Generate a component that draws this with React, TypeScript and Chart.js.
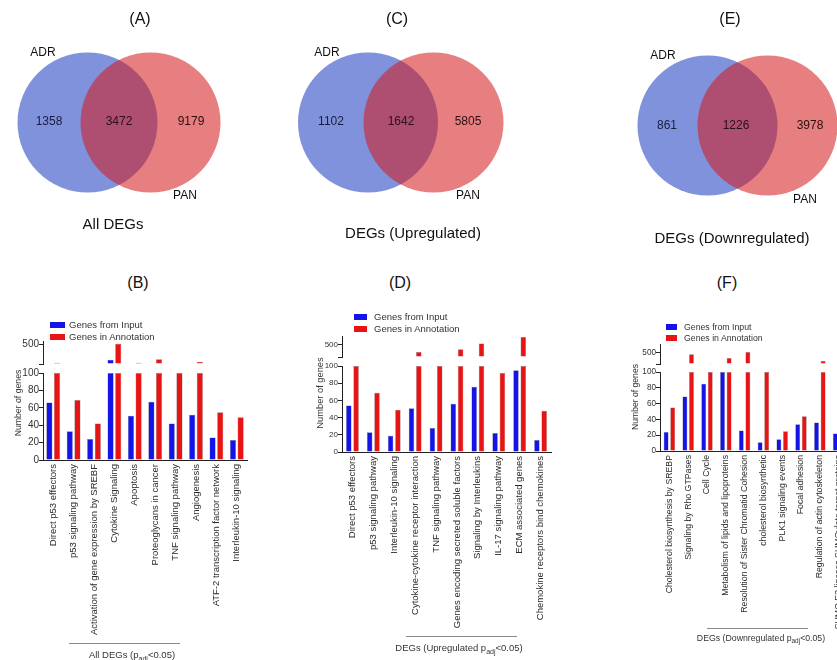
import React, { useEffect, useRef } from 'react';
import { Chart, registerables } from 'chart.js';

Chart.register(...registerables);

const FONT = '"Liberation Sans", Arial, Helvetica, sans-serif';

// ---------------- Venn data ----------------
const vennTitles = ['(A)', '(C)', '(E)'];
const vennCaptions = ['All DEGs', 'DEGs (Upregulated)', 'DEGs (Downregulated)'];
const vennSets = ['ADR', 'PAN'];
const vennOnlyADR = [1358, 1102, 861];
const vennBoth = [3472, 1642, 1226];
const vennOnlyPAN = [9179, 5805, 3978];

// ---------------- Bar data ----------------
const seriesNames = ['Genes from Input', 'Genes in Annotation'];

const catB = [
  'Direct p53 effectors',
  'p53 signaling pathway',
  'Activation of gene expression by SREBF',
  'Cytokine Signaling',
  'Apoptosis',
  'Proteoglycans in cancer',
  'TNF signaling pathway',
  'Angiogenesis',
  'ATF-2 transcription factor network',
  'Interleukin-10 signaling',
];
const inputB = [66, 33, 24, 186, 51, 67, 42, 52, 26, 23];
const annotB = [126, 69, 42, 506, 126, 194, 108, 146, 55, 49];

const catD = [
  'Direct p53 effectors',
  'p53 signaling pathway',
  'Interleukin-10 signaling',
  'Cytokine-cytokine receptor interaction',
  'TNF signaling pathway',
  'Genes encoding secreted soluble factors',
  'Signaling by Interleukins',
  'IL-17 signaling pathway',
  'ECM associated genes',
  'Chemokine receptors bind chemokines',
];
const inputD = [54, 23, 19, 51, 28, 56, 76, 22, 95, 14];
const annotD = [120, 69, 49, 261, 110, 348, 532, 92, 745, 48];

const catF = [
  'Cholesterol biosynthesis by SREBP',
  'Signaling by Rho GTPases',
  'Cell Cycle',
  'Metabolism of lipids and lipoproteins',
  'Resolution of Sister Chromatid Cohesion',
  'cholesterol biosynthetic',
  'PLK1 signaling events',
  'Focal adhesion',
  'Regulation of actin cytoskeleton',
  'SUMO E3 ligases SUMOylate target proteins',
];
const inputF = [24, 69, 85, 100, 26, 11, 15, 34, 36, 22];
const annotF = [55, 443, 110, 312, 525, 100, 25, 44, 206, 60];

const panelTitles = ['(B)', '(D)', '(F)'];
const captionMain = ['All DEGs (p', 'DEGs (Upregulated p', 'DEGs (Downregulated p'];
const captionSub = 'adj';
const captionTail = '<0.05)';
const yTitle = 'Number of genes';
const BREAK = 100;
const UPPER_TICK = 500;

// ---------------- Layout ----------------
const VENN_R = 70;
const VENN_LAYOUT = [
  { blue: [87.5, 122.5], red: [150.5, 122.5], title: [140, 20], adr: [43, 53], pan: [185, 196], counts: [[49, 122], [119, 122], [191, 122]], caption: [113, 225] },
  { blue: [368, 122.5], red: [433.5, 122.5], title: [397, 20], adr: [327, 53], pan: [468, 196], counts: [[331, 122], [401, 122], [468, 122]], caption: [413, 234] },
  { blue: [707.5, 125.5], red: [767.5, 125.5], title: [730, 20], adr: [663, 56], pan: [805, 200], counts: [[667, 126], [736, 126], [810, 126]], caption: [732, 239] },
];

const BLUE = 'rgb(20,20,232)';
const RED = 'rgb(232,20,20)';
const AX = '#222';

type Panel = {
  cats: string[]; input: number[]; annot: number[];
  left: number; top: number; w: number; h: number;
  yAxisW: number; padTop: number; padRight: number; xAxisH: number;
  wLow: number; wGap: number; wUp: number; upMax: number;
  catPct: number; barPct: number; fs: number; tickFs: number; yTitleFs: number;
  titlePos: [number, number]; yTitlePos: [number, number];
  legendBox: { x: number; w: number; rows: [number, number]; textX: number };
  line: [number, number, number]; captionPos: [number, number];
};

const PANELS: Panel[] = [
  {
    cats: catB, input: inputB, annot: annotB,
    left: 0, top: 330, w: 260, h: 330, yAxisW: 43, padTop: 11, padRight: 13, xAxisH: 200,
    wLow: 87, wGap: 9, wUp: 23, upMax: 560, catPct: 0.75, barPct: 0.8, fs: 1, tickFs: 10, yTitleFs: 8.7,
    titlePos: [138, 283], yTitlePos: [18, 403],
    legendBox: { x: 50, w: 15, rows: [325, 337], textX: 69 },
    line: [69, 180, 643], captionPos: [132, 655],
  },
  {
    cats: catD, input: inputD, annot: annotD,
    left: 290, top: 326, w: 275, h: 334, yAxisW: 52, padTop: 10, padRight: 14, xAxisH: 208,
    wLow: 86, wGap: 9, wUp: 21, upMax: 777, catPct: 0.7, barPct: 0.75, fs: 1, tickFs: 8, yTitleFs: 9.3,
    titlePos: [400, 283], yTitlePos: [321, 393],
    legendBox: { x: 354, w: 13, rows: [317, 329], textX: 374 },
    line: [406, 517, 636], captionPos: [459, 648],
  },
  {
    cats: catF, input: inputF, annot: annotF,
    left: 615, top: 334, w: 250, h: 326, yAxisW: 45, padTop: 10, padRight: 17, xAxisH: 209,
    wLow: 79, wGap: 8, wUp: 20, upMax: 808, catPct: 0.7, barPct: 0.74, fs: 0.92, tickFs: 8.2, yTitleFs: 8.6,
    titlePos: [727, 283], yTitlePos: [635, 397],
    legendBox: { x: 666, w: 11, rows: [327, 337.5], textX: 684 },
    line: [707, 808, 628], captionPos: [761, 638],
  },
];

const vennTextPlugin = {
  id: 'vennText',
  afterDatasetsDraw(chart: any) {
    const { ctx, scales } = chart;
    const sx = scales.x;
    const sy = scales.y;
    ctx.save();
    ctx.textAlign = 'center';
    ctx.textBaseline = 'middle';
    const put = (t: string, pos: number[], size: number, color: string) => {
      ctx.font = `${size}px ${FONT}`;
      ctx.fillStyle = color;
      ctx.fillText(t, sx.getPixelForValue(pos[0]), sy.getPixelForValue(pos[1]));
    };
    VENN_LAYOUT.forEach((L, i) => {
      put(vennTitles[i], L.title, 16, '#111');
      put(vennSets[0], L.adr, 12, '#111');
      put(vennSets[1], L.pan, 12, '#111');
      put(String(vennOnlyADR[i]), L.counts[0], 12, '#1c1c3c');
      put(String(vennBoth[i]), L.counts[1], 12, '#2a0f1c');
      put(String(vennOnlyPAN[i]), L.counts[2], 12, '#2a1010');
      put(vennCaptions[i], L.caption, 15, '#111');
    });
    ctx.restore();
  },
};

function VennRow() {
  const ref = useRef<HTMLCanvasElement | null>(null);
  useEffect(() => {
    if (!ref.current) return;
    const chart = new Chart(ref.current, {
      type: 'bubble',
      data: {
        datasets: [
          {
            label: vennSets[0],
            data: VENN_LAYOUT.map((L) => ({ x: L.blue[0], y: L.blue[1], r: VENN_R })),
            backgroundColor: 'rgba(60,90,200,0.66)',
            borderWidth: 0,
            order: 2,
            clip: false as any,
          },
          {
            label: vennSets[1],
            data: VENN_LAYOUT.map((L) => ({ x: L.red[0], y: L.red[1], r: VENN_R })),
            backgroundColor: 'rgba(213,26,30,0.56)',
            borderWidth: 0,
            order: 1,
            clip: false as any,
          },
        ],
      },
      options: {
        animation: false,
        responsive: false,
        events: [],
        layout: { padding: 0, autoPadding: false },
        plugins: { legend: { display: false }, tooltip: { enabled: false } },
        scales: {
          x: { type: 'linear', min: 0, max: 837, display: false },
          y: { type: 'linear', min: 0, max: 255, reverse: true, display: false },
        },
      },
      plugins: [vennTextPlugin as any],
    });
    return () => chart.destroy();
  }, []);
  return (
    <canvas
      ref={ref}
      width={837}
      height={255}
      style={{ position: 'absolute', left: 0, top: 0, width: 837, height: 255 }}
    />
  );
}

function BarPanel({ p }: { p: Panel }) {
  const ref = useRef<HTMLCanvasElement | null>(null);
  useEffect(() => {
    if (!ref.current) return;
    const lowIn = p.input.map((v) => Math.min(v, BREAK));
    const lowAn = p.annot.map((v) => Math.min(v, BREAK));
    const upIn = p.input.map((v) => (v > BREAK ? v : null));
    const upAn = p.annot.map((v) => (v > BREAK ? v : null));
    const tickFont = { family: FONT, size: p.tickFs };
    const common = {
      borderColor: 'rgba(20,20,20,0.55)',
      borderWidth: 0.5,
      categoryPercentage: p.catPct,
      barPercentage: p.barPct,
    };
    const chart = new Chart(ref.current, {
      type: 'bar',
      data: {
        labels: p.cats,
        datasets: [
          { label: seriesNames[0], data: lowIn, yAxisID: 'y', stack: 'in', backgroundColor: BLUE, ...common },
          { label: seriesNames[1], data: lowAn, yAxisID: 'y', stack: 'an', backgroundColor: RED, ...common },
          { label: seriesNames[0] + ' (upper)', data: upIn as any, yAxisID: 'yUp', stack: 'in', base: BREAK, backgroundColor: BLUE, ...common },
          { label: seriesNames[1] + ' (upper)', data: upAn as any, yAxisID: 'yUp', stack: 'an', base: BREAK, backgroundColor: RED, ...common },
        ] as any,
      },
      options: {
        animation: false,
        responsive: false,
        events: [],
        layout: { padding: { top: p.padTop, right: p.padRight, left: 0, bottom: 0 } },
        plugins: { legend: { display: false }, tooltip: { enabled: false } },
        scales: {
          x: {
            type: 'category',
            offset: true,
            grid: { display: false, drawTicks: false },
            border: { display: true, color: AX, width: 1 },
            ticks: {
              autoSkip: false,
              minRotation: 90,
              maxRotation: 90,
              padding: 4,
              color: '#2a2a2a',
              font: { family: FONT, size: 9.5 * p.fs },
            },
            afterFit: (s: any) => { s.height = p.xAxisH; },
          },
          y: {
            type: 'linear',
            position: 'left',
            stack: 'v',
            stackWeight: p.wLow,
            stacked: false,
            min: 0,
            max: BREAK,
            ticks: { stepSize: 20, color: '#333', font: tickFont, padding: 0 },
            grid: { drawOnChartArea: false, drawTicks: true, tickLength: 4, color: AX },
            border: { display: true, color: AX, width: 1 },
            afterFit: (s: any) => { s.width = p.yAxisW; },
          },
          yGap: {
            type: 'linear',
            position: 'left',
            stack: 'v',
            stackWeight: p.wGap,
            min: 0,
            max: 1,
            ticks: { display: false },
            grid: { display: false },
            border: { display: false },
            afterFit: (s: any) => { s.width = p.yAxisW; },
          },
          yUp: {
            type: 'linear',
            position: 'left',
            stack: 'v',
            stackWeight: p.wUp,
            stacked: false,
            min: BREAK,
            max: p.upMax,
            afterBuildTicks: (s: any) => { s.ticks = [{ value: BREAK }, { value: UPPER_TICK }]; },
            ticks: {
              color: '#333',
              font: tickFont,
              padding: 0,
              callback: (v: any) => (v === UPPER_TICK ? String(UPPER_TICK) : ''),
            },
            grid: { drawOnChartArea: false, drawTicks: true, tickLength: 4, color: AX },
            border: { display: true, color: AX, width: 1 },
            afterFit: (s: any) => { s.width = p.yAxisW; },
          },
        } as any,
      },
    });
    return () => chart.destroy();
  }, [p]);
  return (
    <canvas
      ref={ref}
      width={p.w}
      height={p.h}
      style={{ position: 'absolute', left: p.left, top: p.top, width: p.w, height: p.h }}
    />
  );
}

const centered = (x: number, y: number, extra: React.CSSProperties = {}): React.CSSProperties => ({
  position: 'absolute',
  left: x,
  top: y,
  transform: 'translate(-50%, -50%)',
  whiteSpace: 'nowrap',
  lineHeight: 1,
  fontFamily: FONT,
  color: '#111',
  ...extra,
});

export default function App() {
  return (
    <div
      style={{
        position: 'fixed',
        left: 0,
        top: 0,
        width: 837,
        height: 660,
        overflow: 'hidden',
        background: '#fff',
        fontFamily: FONT,
      }}
    >
      <VennRow />
      {PANELS.map((p, i) => (
        <React.Fragment key={i}>
          <BarPanel p={p} />
          <div style={centered(p.titlePos[0], p.titlePos[1], { fontSize: 16 })}>{panelTitles[i]}</div>
          <div
            style={centered(p.yTitlePos[0], p.yTitlePos[1], {
              fontSize: p.yTitleFs,
              color: '#333',
              transform: 'translate(-50%, -50%) rotate(-90deg)',
            })}
          >
            {yTitle}
          </div>
          {[BLUE, RED].map((c, k) => (
            <React.Fragment key={k}>
              <div
                style={{
                  position: 'absolute',
                  left: p.legendBox.x,
                  top: p.legendBox.rows[k] - 3,
                  width: p.legendBox.w,
                  height: 6,
                  background: c,
                }}
              />
              <div
                style={{
                  position: 'absolute',
                  left: p.legendBox.textX,
                  top: p.legendBox.rows[k],
                  transform: 'translateY(-50%)',
                  fontSize: 9.5 * p.fs,
                  lineHeight: 1,
                  whiteSpace: 'nowrap',
                  color: '#333',
                  fontFamily: FONT,
                }}
              >
                {seriesNames[k]}
              </div>
            </React.Fragment>
          ))}
          <div
            style={{
              position: 'absolute',
              left: p.line[0],
              top: p.line[2],
              width: p.line[1] - p.line[0],
              height: 0,
              borderTop: '1px solid #8a8a8a',
            }}
          />
          <div style={centered(p.captionPos[0], p.captionPos[1], { fontSize: 9.5 * p.fs, color: '#333' })}>
            {captionMain[i]}
            <sub style={{ fontSize: 7 * p.fs, verticalAlign: 'sub', lineHeight: 0 }}>{captionSub}</sub>
            {captionTail}
          </div>
        </React.Fragment>
      ))}
    </div>
  );
}
